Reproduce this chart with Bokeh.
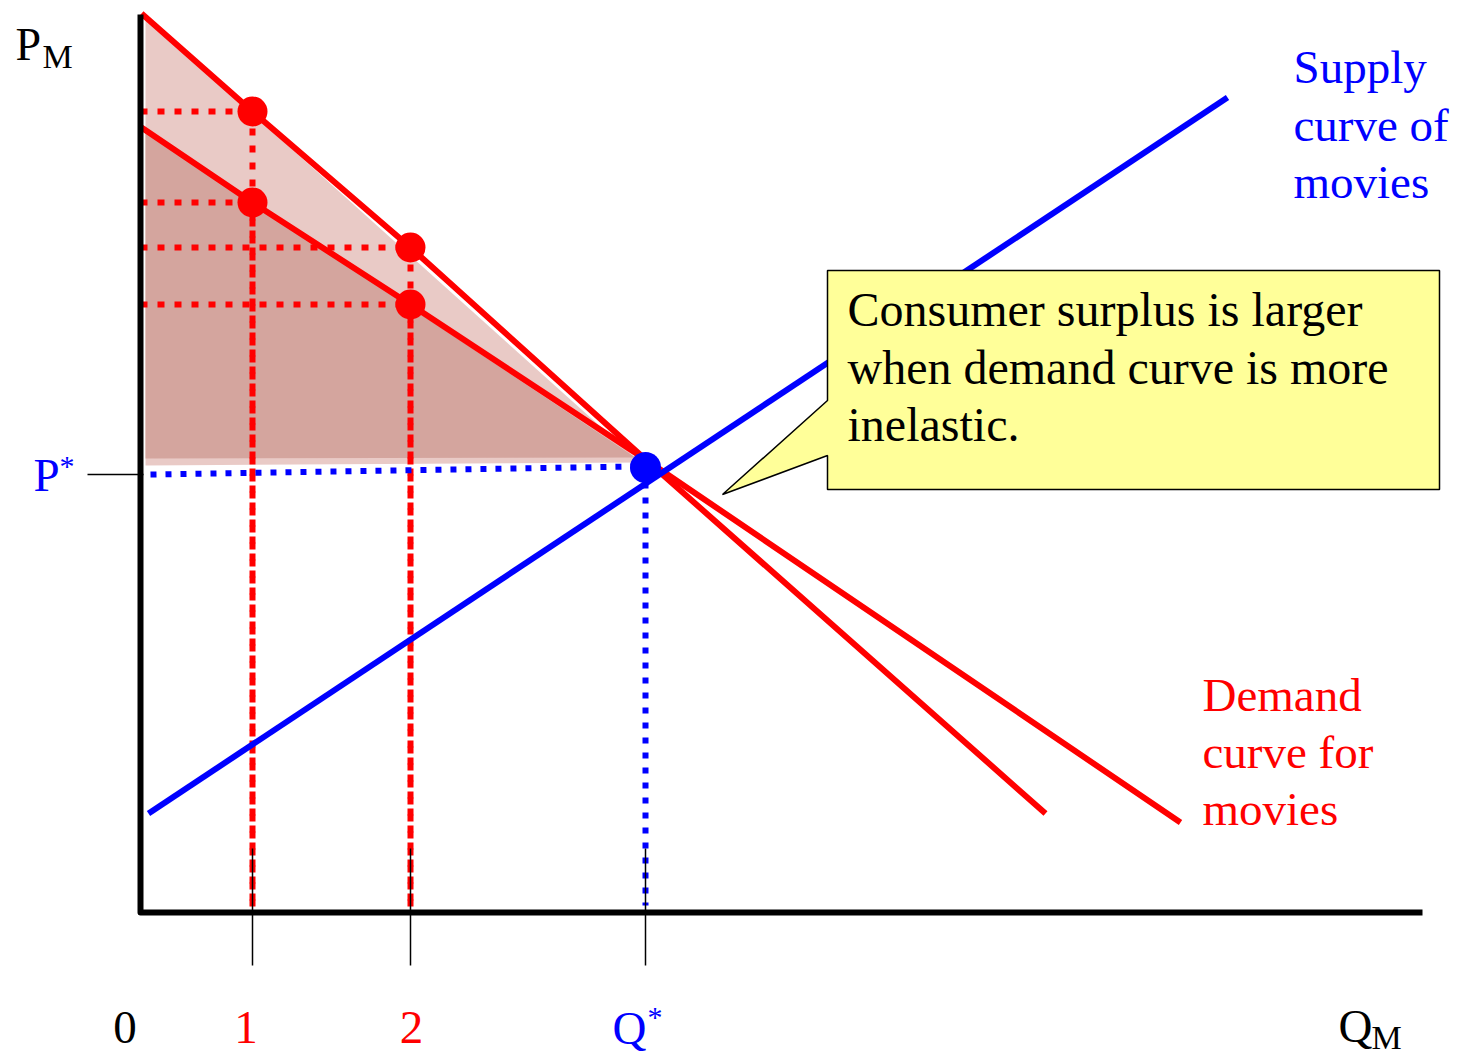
from bokeh.plotting import figure
from bokeh.models import Range1d
from bokeh.core.properties import value
from bokeh.embed import file_html
from bokeh.resources import INLINE

# ---------------- data (quantity Q, price P in chart units) ----------------
Q_MARKS = [1.12, 2.70]            # quantities "1" and "2"
P_STEEP_MARKS = [8.01, 6.65]      # prices on the steep (inelastic) demand curve
P_FLAT_MARKS = [7.10, 6.08]       # prices on the flatter demand curve
Q_STAR = 5.05
P_STAR = 4.45
P_STAR_GUIDE = [4.38, 4.46]       # dotted P* guide (left end, right end)

DEMAND_STEEP_Q = [0.01, 1.12, 2.70, 5.05, 9.05]
DEMAND_STEEP_P = [8.99, 8.01, 6.65, 4.53, 0.99]
DEMAND_FLAT_Q = [0.01, 1.12, 2.70, 5.05, 10.40]
DEMAND_FLAT_P = [7.85, 7.10, 6.08, 4.53, 0.90]
SUPPLY_Q = [0.08, 10.87]
SUPPLY_P = [0.99, 8.15]

SURPLUS_STEEP_Q = [0.05, 5.00, 0.05]
SURPLUS_STEEP_P = [8.95, 4.50, 4.47]
SURPLUS_FLAT_Q = [0.05, 4.95, 0.05]
SURPLUS_FLAT_P = [7.82, 4.55, 4.54]

X_TICK_LABELS = ["0", "1", "2"]
SUPPLY_LABEL = ["Supply", "curve of", "movies"]
DEMAND_LABEL = ["Demand", "curve for", "movies"]
CALLOUT_TEXT = ["Consumer surplus is larger", "when demand curve is more", "inelastic."]

RED = "#FF0000"
BLUE = "#0000FF"
FONT = value("Liberation Serif")

W, H = 1460, 1059
TB = 18   # baseline correction (px) for alphabetic-baseline texts
TT = 7    # correction for top-baseline texts


def X(px):  # screen pixel -> chart Q (layout helper for annotations)
    return (px - 140) / 100.0


def Y(py):  # screen pixel -> chart P
    return (912 - py) / 100.0


p = figure(width=W, height=H, output_backend="svg", toolbar_location=None,
           x_range=Range1d(X(0), X(W)), y_range=Range1d(Y(H), Y(0)),
           min_border=0, outline_line_color=None, background_fill_color="white")
p.xaxis.visible = False
p.yaxis.visible = False
p.grid.visible = False

# consumer surplus areas
p.patch(SURPLUS_STEEP_Q, SURPLUS_STEEP_P, fill_color="#E9CAC6", line_color=None)
p.patch(SURPLUS_FLAT_Q, SURPLUS_FLAT_P, fill_color="#D4A59E", line_color=None)

# red dotted guides
for q, ps, pf in zip(Q_MARKS, P_STEEP_MARKS, P_FLAT_MARKS):
    for pr in (ps, pf):
        p.line([0, q], [pr, pr], line_color=RED, line_width=6, line_dash="7 10")
        p.line([q, q], [pr, 0.06], line_color=RED, line_width=6, line_dash="7 10")

# blue dotted guides
p.line([0.10, Q_STAR - 0.10], P_STAR_GUIDE, line_color=BLUE, line_width=6, line_dash="6 9")
p.line([Q_STAR, Q_STAR], [P_STAR, 0.07], line_color=BLUE, line_width=6, line_dash="6 9")

# demand curves
p.line(DEMAND_STEEP_Q, DEMAND_STEEP_P, line_color=RED, line_width=6)
p.line(DEMAND_FLAT_Q, DEMAND_FLAT_P, line_color=RED, line_width=6)

# supply curve
p.line(SUPPLY_Q, SUPPLY_P, line_color=BLUE, line_width=6)

# points
p.scatter(Q_MARKS + Q_MARKS, P_STEEP_MARKS + P_FLAT_MARKS, size=30,
          fill_color=RED, line_color=None)
p.scatter([Q_STAR], [P_STAR], size=31, fill_color=BLUE, line_color=None)

# thin tick marks
for q in Q_MARKS + [Q_STAR]:
    p.line([q, q], [Y(848), Y(965)], line_color="black", line_width=1.5)
p.line([X(87), X(143)], [P_STAR_GUIDE[0], P_STAR_GUIDE[0]], line_color="black", line_width=1.5)

# axes
p.line([0, 0, X(1422)], [Y(14), 0, 0], line_color="black", line_width=6,
       line_join="round")

# callout box with pointer
cx = [X(827), X(1439), X(1439), X(827), X(827), X(722), X(827)]
cy = [Y(270), Y(270), Y(489), Y(489), Y(455), Y(494), Y(400)]
p.patch(cx, cy, fill_color="#FFFF99", line_color="black", line_width=1.5)


def label(xpx, ypx, txt, size, color, align="left", top=False):
    n = len(txt)
    yy = [Y(v - (TT if top else TB)) for v in ypx]
    p.text(x=[X(v) for v in xpx] if isinstance(xpx, list) else [X(xpx)] * n,
           y=yy, text=txt, text_font=FONT, text_font_size=size, text_color=color,
           text_baseline="top" if top else "alphabetic", text_align=align)


# texts
label(847, [327, 385, 442], CALLOUT_TEXT, "48px", "black")
label(1293, [84, 142, 199], SUPPLY_LABEL, "47px", BLUE)
label(1202, [712, 769, 826], DEMAND_LABEL, "47px", RED)

# axis labels
p.text(x=[X(124.5), X(245.5), X(411)], y=[Y(1045 - TB)] * 3, text=X_TICK_LABELS,
       text_font=FONT, text_font_size="47px",
       text_color=["black", RED, RED], text_baseline="alphabetic", text_align="center")
label(612, [1045], ["Q"], "47px", BLUE)
label(647, [1006], ["*"], "30px", BLUE, top=True)
label(33, [492], ["P"], "47px", BLUE)
label(59, [455], ["*"], "30px", BLUE, top=True)
label(15, [62], ["P"], "46px", "black")
label(42, [74], ["M"], "34px", "black")
label(1338, [1043], ["Q"], "47px", "black")
label(1371, [1055], ["M"], "34px", "black")

open("out.html", "w").write(file_html(p, INLINE))
